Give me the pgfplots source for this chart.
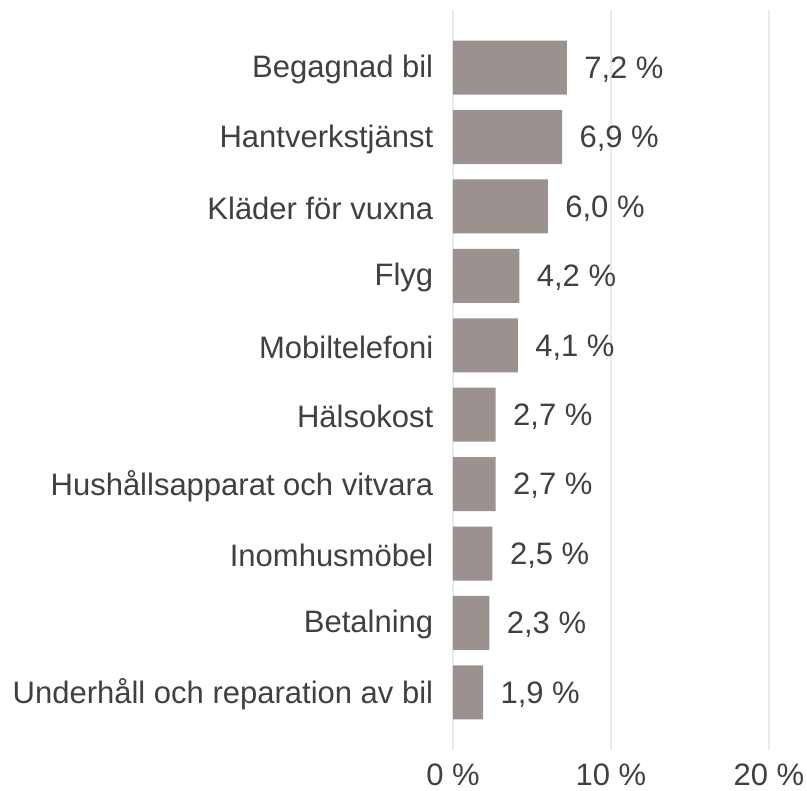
\documentclass[border=0pt]{standalone}
\usepackage{pgfplots}
\pgfplotsset{compat=1.18}
\usepackage{fontspec}
\setmainfont{Liberation Sans}
\definecolor{barc}{HTML}{9B918F}
\definecolor{txt}{HTML}{404040}
\definecolor{gridc}{HTML}{EBEBEB}
\begin{document}
\begin{tikzpicture}[x=1pt,y=1pt]
\useasboundingbox (-453,-41) rectangle (354,750);
\begin{axis}[
  at={(0,0)}, anchor=south west,
  scale only axis,
  width=316pt, height=740pt,
  xbar, bar width=54pt,
  xmin=0, xmax=20,
  ymin=-0.83, ymax=9.83,
  y dir=reverse,
  axis line style={draw=none},
  tick style={draw=none},
  xmajorgrids, grid style={gridc, line width=1.5pt},
  xtick={0,10,20},
  xticklabels={0~\%,10~\%,20~\%},
  ytick={0,...,9},
  yticklabels={Begagnad bil,Hantverkstjänst,Kläder för vuxna,Flyg,Mobiltelefoni,Hälsokost,Hushållsapparat och vitvara,Inomhusmöbel,Betalning,Underhåll och reparation av bil},
  ticklabel style={font=\fontsize{31}{36}\selectfont, text=txt},
  yticklabel style={xshift=-12pt, yshift=-2pt},
  xticklabel style={inner sep=0pt, yshift=-14pt},
  /pgf/number format/assume math mode=true,
  nodes near coords={\pgfmathprintnumber[fixed,fixed zerofill,precision=1,use comma]{\pgfplotspointmeta}~\%},
  nodes near coords style={font=\fontsize{31}{36}\selectfont, text=txt, anchor=west, xshift=14pt, yshift=-2pt},
]
\addplot[fill=barc, draw=none] coordinates {
(7.2,0) (6.9,1) (6.0,2) (4.2,3) (4.1,4) (2.7,5) (2.7,6) (2.5,7) (2.3,8) (1.9,9)
};
\end{axis}
\end{tikzpicture}
\end{document}
